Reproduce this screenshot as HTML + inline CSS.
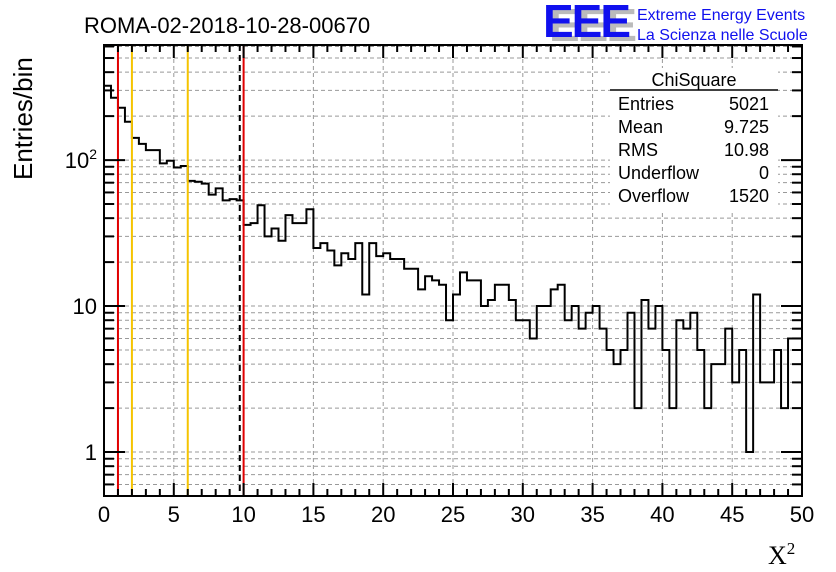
<!DOCTYPE html>
<html><head><meta charset="utf-8"><style>
body{margin:0;background:#fff;}
svg{display:block;font-family:"Liberation Sans",sans-serif;}
</style></head><body>
<svg id="chart" width="836" height="572" viewBox="0 0 836 572" xmlns="http://www.w3.org/2000/svg">
<rect width="836" height="572" fill="#fff"/>
<text x="84" y="33" font-size="22" fill="#000">ROMA-02-2018-10-28-00670</text>
<g>
<text x="549" y="41" font-size="46" font-weight="bold" fill="#bbb" letter-spacing="-2">EEE</text>
<text x="543" y="37" font-size="46" font-weight="bold" fill="#1010ee" letter-spacing="-2">EEE</text>
<text x="637" y="20" font-size="16" fill="#1010ee">Extreme Energy Events</text>
<text x="637" y="40" font-size="16" fill="#1010ee">La Scienza nelle Scuole</text>
</g>
<g id="grid"></g>
<g id="marks"></g>
<g id="axes"></g>
<g font-size="18" fill="#000">
<rect x="610" y="68" width="168" height="142" fill="#fff"/>
<text x="694" y="86" text-anchor="middle">ChiSquare</text>
<line x1="610" y1="90" x2="778" y2="90" stroke="#000" stroke-width="1.5"/>
<text x="618" y="110">Entries</text><text x="769" y="110" text-anchor="end">5021</text>
<text x="618" y="133">Mean</text><text x="769" y="133" text-anchor="end">9.725</text>
<text x="618" y="156">RMS</text><text x="769" y="156" text-anchor="end">10.98</text>
<text x="618" y="179">Underflow</text><text x="769" y="179" text-anchor="end">0</text>
<text x="618" y="202">Overflow</text><text x="769" y="202" text-anchor="end">1520</text>
</g>
<text transform="translate(32,180) rotate(-90)" font-size="26" fill="#000">Entries/bin</text>
<text x="768" y="564" font-size="26" font-family="Liberation Serif,serif" fill="#000">X<tspan font-size="17" dy="-10">2</tspan></text>
</svg>
<script>
const binWidth = 0.5;
const counts = [323,267,228,183,142,129,117,117,95,99,89,91,72,71,69,58,64,53,54,53,
36,37,49,30,34,28,42,37,37,46,25,27,24,19,23,21,27,12,27,22,
23,21,21,18,18,13,16,15,14,8,12,17,15,15,10,11,14,14,11,8,
8,6,10,10,13,14,8,10,7,9,10,7,5,4,5,9,2,11,7,10,
5,2,8,7,9,5,2,4,4,7,3,5,1,12,3,3,5,2,6,6];
const xTicks = [0,5,10,15,20,25,30,35,40,45,50];
const yTickValues = [1,10,100];
const yTickBase = ["1","10","10"];
const yTickExp = ["","","2"];
const redLines = [1,10];
const yellowLines = [2,6];
const meanValue = 9.725;

const X0=104,X1=802,Y0=496,Y1=45,XMIN=0,XMAX=50,YMIN=0.5,YMAX=614;
const NS="http://www.w3.org/2000/svg";
function sx(v){return X0+(v-XMIN)/(XMAX-XMIN)*(X1-X0);}
function sy(v){return Y0-(Math.log10(v)-Math.log10(YMIN))/(Math.log10(YMAX)-Math.log10(YMIN))*(Y0-Y1);}
function mk(tag,attrs,parent){const e=document.createElementNS(NS,tag);for(const k in attrs)e.setAttribute(k,attrs[k]);parent.appendChild(e);return e;}
const grid=document.getElementById('grid'),marks=document.getElementById('marks'),axes=document.getElementById('axes');

const minorY=[];
for(let d=-1;d<=2;d++)for(let m=1;m<=9;m++){const v=m*Math.pow(10,d);if(v>=YMIN&&v<=YMAX)minorY.push(v);}
minorY.forEach(v=>{
  const g=mk('line',{x1:X0,x2:X1,y1:sy(v),y2:sy(v),stroke:'#999','stroke-dasharray':'4,3','stroke-width':1},grid);
  
  
});
xTicks.forEach(v=>{
  if(v===XMIN||v===XMAX)return;
  const g=mk('line',{x1:sx(v),x2:sx(v),y1:Y1,y2:Y0,stroke:'#999','stroke-dasharray':'4,3','stroke-width':1},grid);
  
  
});

let d='';
counts.forEach((c,i)=>{
  const xa=sx(i*binWidth),xb=sx((i+1)*binWidth),y=sy(Math.max(c,YMIN));
  d+=(i===0?'M'+xa+','+y:'L'+xa+','+y)+' L'+xb+','+y+' ';
});
const h=mk('path',{d:d,fill:'none',stroke:'#000','stroke-width':2},marks);



yellowLines.forEach(v=>{
  const l=mk('line',{x1:sx(v),x2:sx(v),y1:Y1,y2:Y0,stroke:'#f5c400','stroke-width':2},marks);
  
  
});
const ml=mk('line',{x1:sx(meanValue),x2:sx(meanValue),y1:Y1,y2:Y0,stroke:'#000','stroke-width':2,'stroke-dasharray':'6,4'},marks);


redLines.forEach(v=>{
  const l=mk('line',{x1:sx(v),x2:sx(v),y1:Y1,y2:Y0,stroke:'#e00000','stroke-width':2},marks);
  
  
});

const fr=mk('rect',{x:X0,y:Y1,width:X1-X0,height:Y0-Y1,fill:'none',stroke:'#000','stroke-width':2},axes);


for(let v=XMIN;v<=XMAX;v++){
  const len=(v%5===0)?13:7;
  mk('line',{x1:sx(v),x2:sx(v),y1:Y0,y2:Y0-len,stroke:'#000','stroke-width':2},axes);
  mk('line',{x1:sx(v),x2:sx(v),y1:Y1,y2:Y1+len,stroke:'#000','stroke-width':2},axes);
}
xTicks.forEach(v=>{
  const t=mk('text',{x:sx(v),y:522,'font-size':22,'text-anchor':'middle',fill:'#000'},axes);
  t.textContent=String(v);
  
  
});
minorY.forEach(v=>{
  const major=yTickValues.includes(v);
  const len=major?21:10;
  mk('line',{x1:X0,x2:X0+len,y1:sy(v),y2:sy(v),stroke:'#000','stroke-width':2},axes);
  mk('line',{x1:X1,x2:X1-len,y1:sy(v),y2:sy(v),stroke:'#000','stroke-width':2},axes);
});
yTickValues.forEach((v,i)=>{
  const t=mk('text',{x:97,y:sy(v)+8,'font-size':22,'text-anchor':'end',fill:'#000'},axes);
  t.textContent=yTickBase[i];
  if(yTickExp[i]){
    const s=mk('tspan',{'font-size':14,dy:-9},t);
    s.textContent=yTickExp[i];
  }
  
  
});
</script>
</body></html>
